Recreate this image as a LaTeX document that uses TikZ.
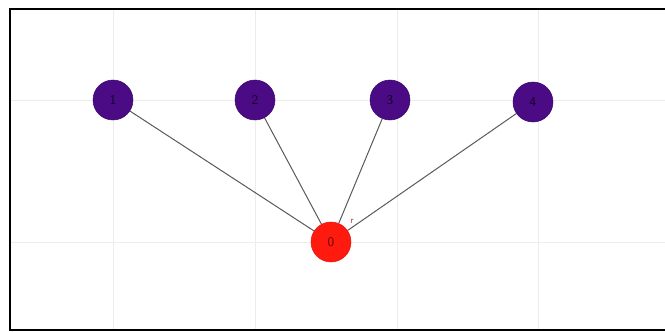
\documentclass[tikz,border=0pt]{standalone}
\usepackage{tikz}
\usetikzlibrary{positioning,calc}
\usepackage{xcolor}
\definecolor{leafpurple}{HTML}{4A0B85}
\definecolor{rootred}{HTML}{FF1A10}
\definecolor{gridgray}{gray}{0.93}
\definecolor{edgegray}{gray}{0.35}

\begin{document}
\begin{tikzpicture}[
  x=0.75pt, y=-0.75pt,
  leaf/.style={circle, fill=leafpurple, draw=leafpurple!80!black, line width=0.4pt,
    minimum size=30pt, inner sep=0pt, font=\sffamily, text=black!70!leafpurple},
  root/.style={circle, fill=rootred, draw=rootred!90!black, line width=0.4pt,
    minimum size=30pt, inner sep=0pt, font=\sffamily, text=black!60!rootred},
  edge/.style={draw=edgegray, line width=0.75pt},
  grid/.style={draw=gridgray, line width=0.5pt}
]
\useasboundingbox (0,0) rectangle (665,332);

% light grid behind the tree
\foreach \gx in {113,255,397,538}
  \draw[grid] (\gx,10) -- (\gx,329);
\foreach \gy in {100,242}
  \draw[grid] (11,\gy) -- (665,\gy);

% frame, open to the right
\draw[line width=1.6pt, black] (670,9) -- (10,9) -- (10,330) -- (670,330);

\node[root] (n0) at (331,242) {0};
\node[leaf] (n1) at (113,100) {1};
\node[leaf] (n2) at (255,100) {2};
\node[leaf] (n3) at (390,100) {3};
\node[leaf] (n4) at (533,102) {4};

\draw[edge] (n1) -- (n0);
\draw[edge] (n2) -- (n0);
\draw[edge] (n3) -- (n0);
\draw[edge] (n4) -- (n0);

\node[font=\scriptsize\sffamily, text=rootred!60!gray, inner sep=0pt] (rlab) at (352,221) {r};
\end{tikzpicture}
\end{document}
